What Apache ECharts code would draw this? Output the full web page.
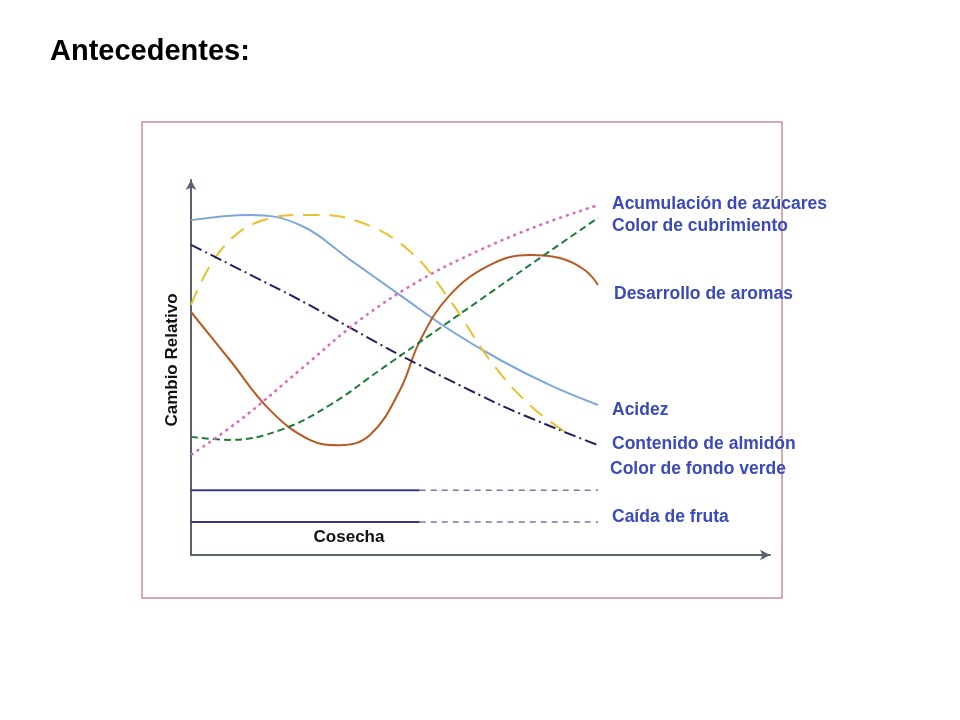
<!DOCTYPE html>
<html><head><meta charset="utf-8">
<script src="https://cdn.jsdelivr.net/npm/echarts@6/dist/echarts.min.js"></script>
<style>html,body{margin:0;background:#fff}#c{width:960px;height:720px}</style>
</head><body><div id="c"></div>
<script>
const acidezX=[0,10.2,18.8,27.5,36.1,44.7,53.4,62,70.3];
const acidezY=[89.3,90.7,88,78.7,69.3,60,52,45.3,40];
const aromasX=[0,5,11.9,20.6,29.2,37.8,44.7,51.6,58.5,65.4];
const aromasY=[66.7,81,89,90.7,88.8,81,68,52,40,32];
const almidonX=[0,6.7,13.6,20.5,25.7,30.9,36.1,39.6,44.7,51.6,58.5,63.7,68,70.3];
const almidonY=[64.8,52,38.7,30.7,29.3,32,44,57.3,69.3,77.3,80,79.2,76,72];
const verdeX=[0,18.8,36.1,53.4,63.7,70.3];
const verdeY=[82.7,68,53.3,40,33.3,29.3];
const cubrX=[0,6.7,15.4,24,32.6,41.3,49.9,58.5,70.3];
const cubrY=[31.5,30.7,33.3,40,49.3,58.7,68,77.3,89.9];
const azucX=[0,8.5,18.8,29.2,39.6,49.9,60.3,70.3];
const azucY=[26.7,36,49.3,62.7,73.3,81.3,88,93.3];
const caidaY=[17.3,8.8];
const cosechaX=[0,39.5,70.3];
const labels=["Acumulación de azúcares","Color de cubrimiento","Desarrollo de aromas","Acidez","Contenido de almidón","Color de fondo verde","Caída de fruta"];
const zip=(a,b)=>a.map((v,i)=>[v,b[i]]);
function ln(x,y,color,type,w,smooth){return {type:'line',data:zip(x,y),smooth:smooth===undefined?0.4:smooth,symbol:'none',lineStyle:{color,type,width:w||2},silent:true};}
const series=[
 ln(acidezX,acidezY,'#7ea6dc','solid',2),
 ln(aromasX,aromasY,'#e8c22a',[16,10],2),
 ln(almidonX,almidonY,'#b85a22','solid',2),
 ln(verdeX,verdeY,'#232060',[12,4,2,4],2,0.2),
 ln(cubrX,cubrY,'#1f7a3a',[7,4],2),
 ln(azucX,azucY,'#d86ac0',[3,4],2.5),
];
caidaY.forEach((v,i)=>{
 series.push(ln(cosechaX.slice(0,2),[v,v],i?'#3a3a7a':'#3a3a8c','solid',2,false));
 series.push(ln(cosechaX.slice(1),[v,v],'#7878a8',[6,5],1.5,false));
});
const lc='#3a4ab8';
const lbl=[[612,204],[612,226],[614,294],[612,410],[612,444],[610,469],[612,517]];
const gr=[{type:'rect',shape:{x:142,y:122,width:640,height:476},style:{fill:'none',stroke:'#c89098',lineWidth:1.5}},
 {type:'text',x:50,y:52,style:{text:'Antecedentes:',font:'bold 29px Arial, Liberation Sans',fill:'#000',textVerticalAlign:'middle'}},
 {type:'text',x:172,y:360,rotation:Math.PI/2,style:{text:'Cambio Relativo',font:'bold 17px Arial, Liberation Sans',fill:'#111',textAlign:'center',textVerticalAlign:'middle'}},
 {type:'text',x:349,y:537,style:{text:'Cosecha',font:'bold 17px Arial, Liberation Sans',fill:'#111',textAlign:'center',textVerticalAlign:'middle'}}];
labels.forEach((t,i)=>gr.push({type:'text',x:lbl[i][0],y:lbl[i][1],style:{text:t,font:'bold 17.5px Arial, Liberation Sans',fill:lc,textVerticalAlign:'middle'}}));
const ch=echarts.init(document.getElementById('c'));
ch.setOption({animation:false,grid:{left:191,right:190,top:180,bottom:165},
 xAxis:{type:'value',min:0,max:100,axisLine:{lineStyle:{color:'#5a6070',width:2},symbol:['none','arrow'],symbolSize:[8,10]},axisTick:{show:false},axisLabel:{show:false},splitLine:{show:false}},
 yAxis:{type:'value',min:0,max:100,axisLine:{show:true,lineStyle:{color:'#5a6070',width:2},symbol:['none','arrow'],symbolSize:[8,10]},axisTick:{show:false},axisLabel:{show:false},splitLine:{show:false}},
 series,graphic:gr});
</script></body></html>
